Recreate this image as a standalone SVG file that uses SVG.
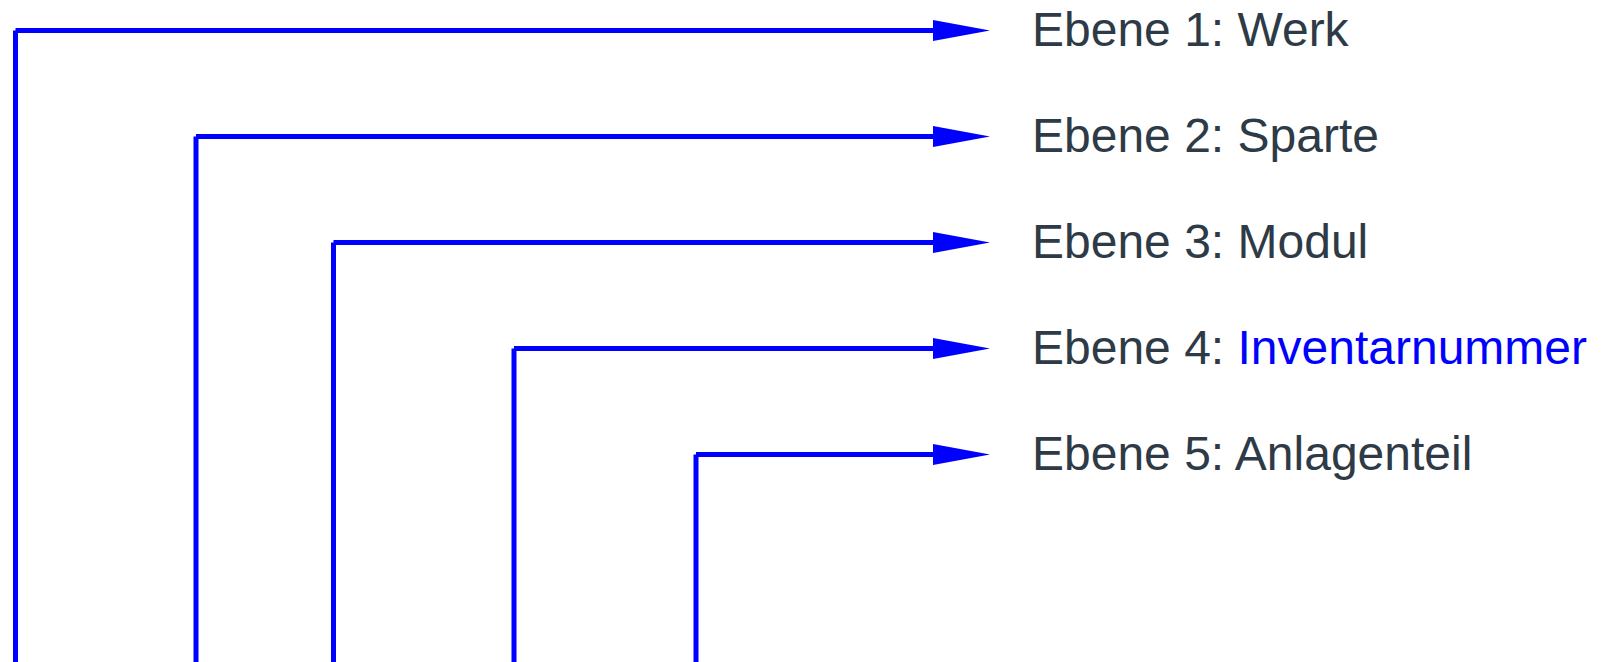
<svg xmlns="http://www.w3.org/2000/svg" width="1608" height="662" viewBox="0 0 1608 662">
  <style>
    .wire { stroke: #0000ff; stroke-width: 5; fill: none; stroke-linecap: butt; }
    .head { fill: #0000ff; }
    .label { font-family: "Liberation Sans", Arial, sans-serif; font-size: 48px; fill: #2e3a46; }
    .accent { fill: #0000ff; }
  </style>
  <defs>
    <polygon id="arrowhead" class="head" points="0,-10.5 57,0 0,10.5"/>
  </defs>

  <!-- connectors: each level rises from the bottom edge and turns right to its label -->
  <g id="connectors">
    <line class="wire" x1="15.5" y1="662" x2="15.5" y2="30.5"/>
    <line class="wire" x1="15.5" y1="30.5" x2="935" y2="30.5"/>
    <use href="#arrowhead" x="933" y="30.5"/>

    <line class="wire" x1="196" y1="662" x2="196" y2="136.5"/>
    <line class="wire" x1="196" y1="136.5" x2="935" y2="136.5"/>
    <use href="#arrowhead" x="933" y="136.5"/>

    <line class="wire" x1="333.5" y1="662" x2="333.5" y2="242.5"/>
    <line class="wire" x1="333.5" y1="242.5" x2="935" y2="242.5"/>
    <use href="#arrowhead" x="933" y="242.5"/>

    <line class="wire" x1="514" y1="662" x2="514" y2="348.5"/>
    <line class="wire" x1="514" y1="348.5" x2="935" y2="348.5"/>
    <use href="#arrowhead" x="933" y="348.5"/>

    <line class="wire" x1="696" y1="662" x2="696" y2="454.5"/>
    <line class="wire" x1="696" y1="454.5" x2="935" y2="454.5"/>
    <use href="#arrowhead" x="933" y="454.5"/>
  </g>

  <g id="level1"><text class="label" x="1032" y="46">Ebene 1: Werk</text></g>
  <g id="level2"><text class="label" x="1032" y="152">Ebene 2: Sparte</text></g>
  <g id="level3"><text class="label" x="1032" y="258">Ebene 3: Modul</text></g>
  <g id="level4"><text class="label" x="1032" y="364">Ebene 4: <tspan class="accent">Inventarnummer</tspan></text></g>
  <g id="level5"><text class="label" x="1032" y="470">Ebene 5: Anlagenteil</text></g>
</svg>
